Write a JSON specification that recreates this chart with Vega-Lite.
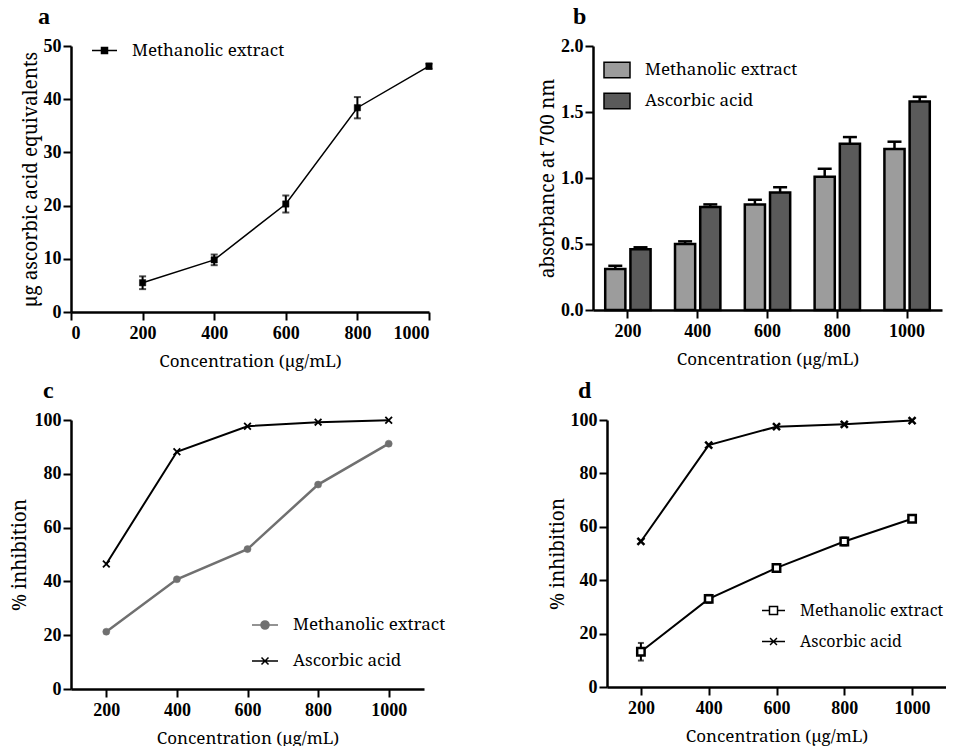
{
  "$schema": "https://vega.github.io/schema/vega-lite/v6.json",
  "padding": {"left": 10, "top": 5, "right": 0, "bottom": 0},
  "background": "white",
  "config": {
    "view": {"stroke": null},
    "font": "Noto Serif",
    "axis": {"domainColor": "black", "domainWidth": 2.5, "tickColor": "black", "tickWidth": 2, "tickSize": 8, "labelFont": "Liberation Serif", "labelFontWeight": "bold", "labelFontSize": 18, "labelColor": "black", "titleFont": "Noto Serif", "titleFontWeight": "normal", "titleFontSize": 17, "titleColor": "black", "grid": false},
    "axisY": {"titleFontSize": 19, "titlePadding": 3, "labelPadding": 2},
    "axisX": {"labelPadding": 4, "titlePadding": 11, "labelAngle": 0},
    "title": {"font": "Liberation Serif", "fontSize": 24, "fontWeight": "bold", "color": "black", "anchor": "start", "frame": "group"},
    "legend": {"labelFont": "Noto Serif", "labelFontSize": 17, "labelColor": "black", "padding": 0, "labelOffset": 14, "title": null, "labelLimit": 400}
  },
  "resolve": {"scale": {"shape": "independent", "fill": "independent", "stroke": "independent", "size": "independent", "strokeWidth": "independent", "color": "independent"}, "legend": {"shape": "independent", "fill": "independent", "stroke": "independent", "color": "independent"}},
  "columns": 1,
  "align": "none",
  "spacing": 10,
  "concat": [
    {
      "spacing": 104,
      "resolve": {"scale": {"shape": "independent", "fill": "independent", "stroke": "independent", "size": "independent", "strokeWidth": "independent", "color": "independent"}, "legend": {"shape": "independent", "fill": "independent", "stroke": "independent", "color": "independent"}},
      "hconcat": [
        {
          "width": 358, "height": 266,
          "title": {"text": "a", "dx": -33, "offset": 8},
          "data": {"values": [
            {"conc": 200, "value": 5.5, "err": 1.2, "series": "Methanolic extract"},
            {"conc": 400, "value": 9.8, "err": 1.0, "series": "Methanolic extract"},
            {"conc": 600, "value": 20.3, "err": 1.6, "series": "Methanolic extract"},
            {"conc": 800, "value": 38.4, "err": 2.0, "series": "Methanolic extract"},
            {"conc": 1000, "value": 46.2, "err": 0.5, "series": "Methanolic extract"}
          ]},
          "encoding": {
            "x": {"field": "conc", "type": "quantitative", "scale": {"domain": [0, 1000], "nice": false}, "axis": {"values": [0, 200, 400, 600, 800, 1000], "format": "d", "title": "Concentration (µg/mL)"}},
            "y": {"field": "value", "type": "quantitative", "scale": {"domain": [0, 50], "nice": false}, "axis": {"values": [0, 10, 20, 30, 40, 50], "title": "µg ascorbic acid equivalents"}}
          },
          "layer": [
            {"mark": {"type": "line", "color": "black", "strokeWidth": 1.5}},
            {"mark": {"type": "errorbar", "color": "black", "thickness": 2, "ticks": {"size": 7}}, "encoding": {"yError": {"field": "err"}}},
            {"mark": {"type": "point", "shape": "square", "filled": true, "opacity": 1, "size": 40, "stroke": "black", "strokeWidth": 0.5},
             "encoding": {"fill": {"field": "series", "type": "nominal", "scale": {"range": ["black"]},
               "legend": {"orient": "none", "legendX": 20, "legendY": -9, "symbolSize": 625, "symbolType": "M-1,0H1M-0.24,-0.24H0.24V0.24H-0.24Z",
                 "encode": {"symbols": {"stroke": {"value": "black"}, "strokeWidth": {"value": 1.5}, "fill": {"value": "black"}, "opacity": {"value": 1}}}}}}}
          ]
        },
        {
          "width": 349, "height": 264,
          "title": {"text": "b", "dx": -20, "offset": 8},
          "data": {"values": [
            {"conc": 200, "series": "Methanolic extract", "value": 0.31, "top": 0.335},
            {"conc": 200, "series": "Ascorbic acid", "value": 0.46, "top": 0.475},
            {"conc": 400, "series": "Methanolic extract", "value": 0.50, "top": 0.52},
            {"conc": 400, "series": "Ascorbic acid", "value": 0.78, "top": 0.80},
            {"conc": 600, "series": "Methanolic extract", "value": 0.80, "top": 0.835},
            {"conc": 600, "series": "Ascorbic acid", "value": 0.89, "top": 0.93},
            {"conc": 800, "series": "Methanolic extract", "value": 1.01, "top": 1.07},
            {"conc": 800, "series": "Ascorbic acid", "value": 1.26, "top": 1.31},
            {"conc": 1000, "series": "Methanolic extract", "value": 1.22, "top": 1.275},
            {"conc": 1000, "series": "Ascorbic acid", "value": 1.58, "top": 1.615}
          ]},
          "encoding": {
            "x": {"field": "conc", "type": "ordinal", "scale": {"paddingInner": 0.35, "paddingOuter": 0.175}, "axis": {"title": "Concentration (µg/mL)"}},
            "xOffset": {"field": "series", "type": "nominal", "sort": ["Methanolic extract", "Ascorbic acid"], "scale": {"paddingInner": 0.2, "paddingOuter": 0}}
          },
          "layer": [
            {"mark": {"type": "bar", "stroke": "black", "strokeWidth": 2.5},
             "encoding": {
               "y": {"field": "value", "type": "quantitative", "scale": {"domain": [0, 2], "nice": false}, "axis": {"values": [0, 0.5, 1, 1.5, 2], "format": ".1f", "title": "absorbance at 700 nm"}},
               "fill": {"field": "series", "type": "nominal", "sort": ["Methanolic extract", "Ascorbic acid"], "scale": {"range": ["#9c9c9c", "#5a5a5a"]},
                 "legend": {"orient": "none", "legendX": 10, "legendY": 10, "symbolSize": 676, "rowPadding": 6, "symbolType": "M-1,-0.6H1V0.6H-1Z",
                   "encode": {"symbols": {"stroke": {"value": "black"}, "strokeWidth": {"value": 2}, "opacity": {"value": 1}}}}}
             }},
            {"mark": {"type": "rule", "color": "black", "strokeWidth": 2.5},
             "encoding": {"y": {"field": "value", "type": "quantitative", "title": "absorbance at 700 nm"}, "y2": {"field": "top"}}},
            {"mark": {"type": "tick", "color": "black", "thickness": 2.5, "size": 14, "opacity": 1},
             "encoding": {"y": {"field": "top", "type": "quantitative", "title": "absorbance at 700 nm"}}}
          ]
        }
      ]
    },
    {
      "spacing": 102,
      "resolve": {"scale": {"shape": "independent", "fill": "independent", "stroke": "independent", "size": "independent", "strokeWidth": "independent", "color": "independent"}, "legend": {"shape": "independent", "fill": "independent", "stroke": "independent", "color": "independent"}},
      "hconcat": [
        {
          "width": 353, "height": 269,
          "title": {"text": "c", "dx": -28, "offset": 8},
          "data": {"values": [
            {"conc": 200, "series": "Methanolic extract", "value": 21.3},
            {"conc": 400, "series": "Methanolic extract", "value": 40.8},
            {"conc": 600, "series": "Methanolic extract", "value": 52.0},
            {"conc": 800, "series": "Methanolic extract", "value": 76.0},
            {"conc": 1000, "series": "Methanolic extract", "value": 91.2},
            {"conc": 200, "series": "Ascorbic acid", "value": 46.5},
            {"conc": 400, "series": "Ascorbic acid", "value": 88.2},
            {"conc": 600, "series": "Ascorbic acid", "value": 97.7},
            {"conc": 800, "series": "Ascorbic acid", "value": 99.2},
            {"conc": 1000, "series": "Ascorbic acid", "value": 99.9}
          ]},
          "encoding": {
            "x": {"field": "conc", "type": "quantitative", "scale": {"domain": [100, 1100], "nice": false}, "axis": {"values": [200, 400, 600, 800, 1000], "format": "d", "title": "Concentration (µg/mL)"}},
            "y": {"field": "value", "type": "quantitative", "scale": {"domain": [0, 100], "nice": false}, "axis": {"values": [0, 20, 40, 60, 80, 100], "title": "% inhibition", "titlePadding": 5}}
          },
          "layer": [
            {"transform": [{"filter": "datum.series === 'Methanolic extract'"}],
             "mark": {"type": "line", "color": "#707070", "strokeWidth": 2.5}},
            {"transform": [{"filter": "datum.series === 'Ascorbic acid'"}],
             "mark": {"type": "line", "color": "black", "strokeWidth": 2}},
            {"transform": [{"filter": "datum.series === 'Methanolic extract'"}],
             "mark": {"type": "point", "shape": "circle", "filled": true, "opacity": 1, "size": 50, "stroke": "#707070", "strokeWidth": 0.5},
             "encoding": {"fill": {"field": "series", "type": "nominal", "scale": {"range": ["#707070"]},
               "legend": {"orient": "none", "legendX": 180, "legendY": 191, "symbolSize": 676,
                 "symbolType": "M-1,0H1M-0.31,0A0.31,0.31 0 1,0 0.31,0A0.31,0.31 0 1,0 -0.31,0Z",
                 "encode": {"symbols": {"stroke": {"value": "#707070"}, "strokeWidth": {"value": 2.5}, "fill": {"value": "#707070"}, "opacity": {"value": 1}}}}}}},
            {"transform": [{"filter": "datum.series === 'Ascorbic acid'"}],
             "mark": {"type": "point", "shape": "M-1,-1L1,1M-1,1L1,-1", "filled": false, "opacity": 1, "size": 45, "strokeWidth": 1.8},
             "encoding": {"stroke": {"field": "series", "type": "nominal", "scale": {"range": ["black"]},
               "legend": {"orient": "none", "legendX": 180, "legendY": 227, "symbolSize": 676,
                 "symbolType": "M-1,0H1M-0.27,-0.27L0.27,0.27M-0.27,0.27L0.27,-0.27",
                 "encode": {"symbols": {"stroke": {"value": "black"}, "strokeWidth": {"value": 2}, "opacity": {"value": 1}}}}}}}
          ]
        },
        {
          "width": 339, "height": 267,
          "title": {"text": "d", "dx": -29, "offset": 8},
          "data": {"values": [
            {"conc": 200, "series": "Methanolic extract", "value": 13.2, "err": 3.3},
            {"conc": 400, "series": "Methanolic extract", "value": 33.0, "err": 1.5},
            {"conc": 600, "series": "Methanolic extract", "value": 44.6, "err": 1.0},
            {"conc": 800, "series": "Methanolic extract", "value": 54.5, "err": 1.5},
            {"conc": 1000, "series": "Methanolic extract", "value": 63.0, "err": 1.0},
            {"conc": 200, "series": "Ascorbic acid", "value": 54.5},
            {"conc": 400, "series": "Ascorbic acid", "value": 90.6},
            {"conc": 600, "series": "Ascorbic acid", "value": 97.5},
            {"conc": 800, "series": "Ascorbic acid", "value": 98.4},
            {"conc": 1000, "series": "Ascorbic acid", "value": 99.8}
          ]},
          "encoding": {
            "x": {"field": "conc", "type": "quantitative", "scale": {"domain": [100, 1100], "nice": false}, "axis": {"values": [200, 400, 600, 800, 1000], "format": "d", "title": "Concentration (µg/mL)"}},
            "y": {"field": "value", "type": "quantitative", "scale": {"domain": [0, 100], "nice": false}, "axis": {"values": [0, 20, 40, 60, 80, 100], "title": "% inhibition"}}
          },
          "layer": [
            {"mark": {"type": "line", "color": "black", "strokeWidth": 2}, "encoding": {"detail": {"field": "series"}}},
            {"transform": [{"filter": "datum.series === 'Methanolic extract'"}],
             "mark": {"type": "errorbar", "color": "black", "thickness": 2, "ticks": {"size": 6}}, "encoding": {"yError": {"field": "err"}}},
            {"transform": [{"filter": "datum.series === 'Methanolic extract'"}],
             "mark": {"type": "point", "shape": "square", "filled": true, "opacity": 1, "size": 55, "stroke": "black", "strokeWidth": 2.5},
             "encoding": {"fill": {"field": "series", "type": "nominal", "scale": {"range": ["white"]},
               "legend": {"orient": "none", "legendX": 154, "legendY": 178, "symbolSize": 529, "labelFontSize": 16,
                 "symbolType": "M-1,0H-0.35M0.35,0H1M-0.35,-0.35H0.35V0.35H-0.35Z",
                 "encode": {"symbols": {"stroke": {"value": "black"}, "strokeWidth": {"value": 2.5}, "fill": {"value": "white"}, "opacity": {"value": 1}}}}}}},
            {"transform": [{"filter": "datum.series === 'Ascorbic acid'"}],
             "mark": {"type": "point", "shape": "M-1,-1L1,1M-1,1L1,-1", "filled": false, "opacity": 1, "size": 49, "strokeWidth": 2.5},
             "encoding": {"stroke": {"field": "series", "type": "nominal", "scale": {"range": ["black"]},
               "legend": {"orient": "none", "legendX": 154, "legendY": 209, "symbolSize": 529, "labelFontSize": 16,
                 "symbolType": "M-1,0H1M-0.3,-0.3L0.3,0.3M-0.3,0.3L0.3,-0.3",
                 "encode": {"symbols": {"stroke": {"value": "black"}, "strokeWidth": {"value": 2.5}, "opacity": {"value": 1}}}}}}}
          ]
        }
      ]
    }
  ]
}
